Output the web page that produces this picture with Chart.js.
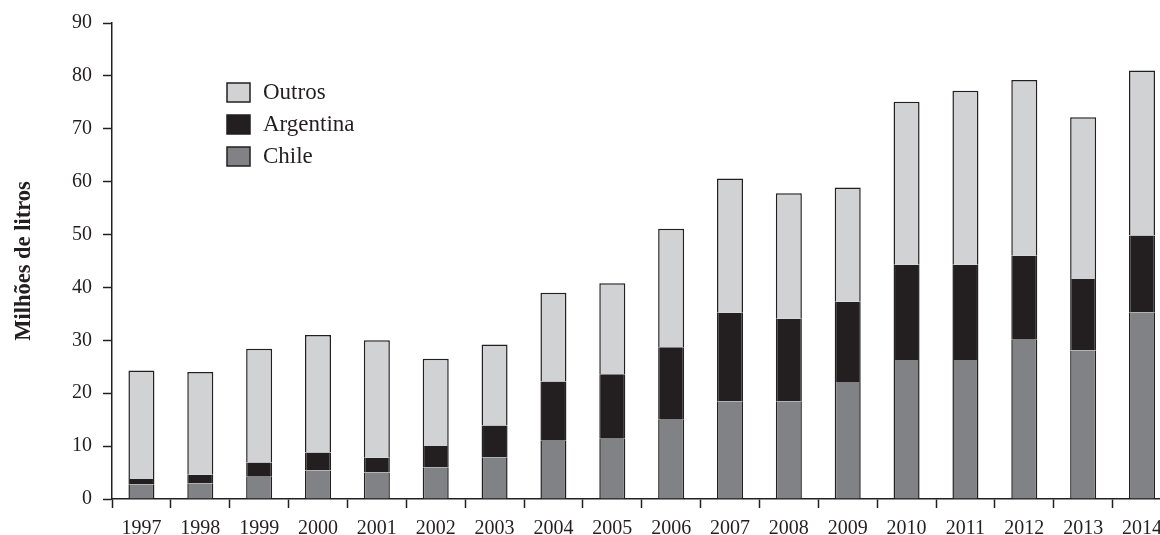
<!DOCTYPE html>
<html>
<head>
<meta charset="utf-8">
<script src="https://cdn.jsdelivr.net/npm/chart.js@4.4.1/dist/chart.umd.min.js"></script>
<style>
  html, body { margin: 0; padding: 0; background: #fff; overflow: hidden; }
  /* the plot runs a little past the right edge of the picture */
  #wrap { width: 1175px; height: 535px; position: relative; }
</style>
</head>
<body>
<div id="wrap"><canvas id="chart"></canvas></div>
<script>
// values (milhões de litros)
const years = ['1997', '1998', '1999', '2000', '2001', '2002', '2003', '2004', '2005',
               '2006', '2007', '2008', '2009', '2010', '2011', '2012', '2013', '2014'];
const chile = [2.8, 3.0, 4.2, 5.4, 5.0, 6.0, 7.9, 11.0, 11.4, 15.0, 18.5, 18.5, 22.1, 26.3, 26.3, 30.1, 28.1, 35.3];
const argentina = [1.0, 1.6, 2.7, 3.4, 2.8, 4.0, 6.0, 11.2, 12.2, 13.7, 16.7, 15.6, 15.2, 18.0, 18.0, 15.9, 13.5, 14.5];
const outros = [20.5, 19.4, 21.5, 22.2, 22.2, 16.5, 15.3, 16.8, 17.2, 22.4, 25.4, 23.7, 21.6, 30.8, 32.9, 33.2, 30.6, 31.2];
const yTicks = [0, 10, 20, 30, 40, 50, 60, 70, 80, 90];

const INK = '#231f20';
const SERIF = "'Liberation Serif', 'DejaVu Serif', serif";

document.addEventListener('DOMContentLoaded', function () {
    // legend drawn inside the plot, top left, Outros first
    const insideLegend = {
        id: 'insideLegend',
        afterDraw(chart) {
            const ctx = chart.ctx;
            const items = chart.data.datasets.slice().reverse();
            ctx.save();
            ctx.font = '23px ' + SERIF;
            ctx.textBaseline = 'middle';
            items.forEach(function (ds, i) {
                const y = 83 + i * 32;
                ctx.fillStyle = ds.backgroundColor;
                ctx.fillRect(227, y, 23, 19);
                ctx.lineWidth = 1.5;
                ctx.strokeStyle = INK;
                ctx.strokeRect(227, y, 23, 19);
                ctx.fillStyle = INK;
                ctx.fillText(ds.label, 263, y + 10);
            });
            ctx.restore();
        }
    };

    function series(label, data, color, border) {
        return {
            label: label,
            data: data,
            backgroundColor: color,
            borderColor: INK,
            borderWidth: border,
            borderSkipped: false,
            barPercentage: 0.9,
            categoryPercentage: 0.491
        };
    }

    new Chart(document.getElementById('chart'), {
        type: 'bar',
        data: {
            labels: years,
            datasets: [
                series('Chile', chile, '#808285', { left: 1.5, right: 1.5, top: 0, bottom: 0 }),
                series('Argentina', argentina, INK, { left: 1.5, right: 1.5, top: 0, bottom: 0 }),
                series('Outros', outros, '#d1d2d4', { left: 1.5, right: 1.5, top: 1.5, bottom: 0 })
            ]
        },
        options: {
            responsive: true,
            maintainAspectRatio: false,
            animation: false,
            layout: { padding: { left: 11, right: 0, top: 12, bottom: 0 } },
            plugins: {
                legend: { display: false },
                tooltip: { enabled: false }
            },
            scales: {
                x: {
                    stacked: true,
                    afterFit(scale) { scale.height = 36; },
                    grid: { drawOnChartArea: false, drawTicks: true, tickLength: 9, tickColor: INK, tickWidth: 1.5, offset: true },
                    border: { display: true, color: INK, width: 1.5 },
                    ticks: { color: INK, font: { family: SERIF, size: 20, lineHeight: 0.8 }, padding: 13, maxRotation: 0 }
                },
                y: {
                    stacked: true,
                    min: 0,
                    max: 90,
                    afterBuildTicks(axis) { axis.ticks = yTicks.map(function (v) { return { value: v }; }); },
                    afterFit(scale) { scale.width = 101; },
                    grid: { drawOnChartArea: false, drawTicks: true, tickLength: 9, tickColor: INK, tickWidth: 1.5 },
                    border: { display: true, color: INK, width: 1.5 },
                    ticks: { color: INK, font: { family: SERIF, size: 20 }, padding: 11 },
                    title: {
                        display: true,
                        text: 'Milhões de litros',
                        color: INK,
                        font: { family: SERIF, size: 22.5, weight: 'bold' },
                        padding: { top: 0, bottom: 26 }
                    }
                }
            }
        },
        plugins: [insideLegend]
    });
});
</script>
</body>
</html>
